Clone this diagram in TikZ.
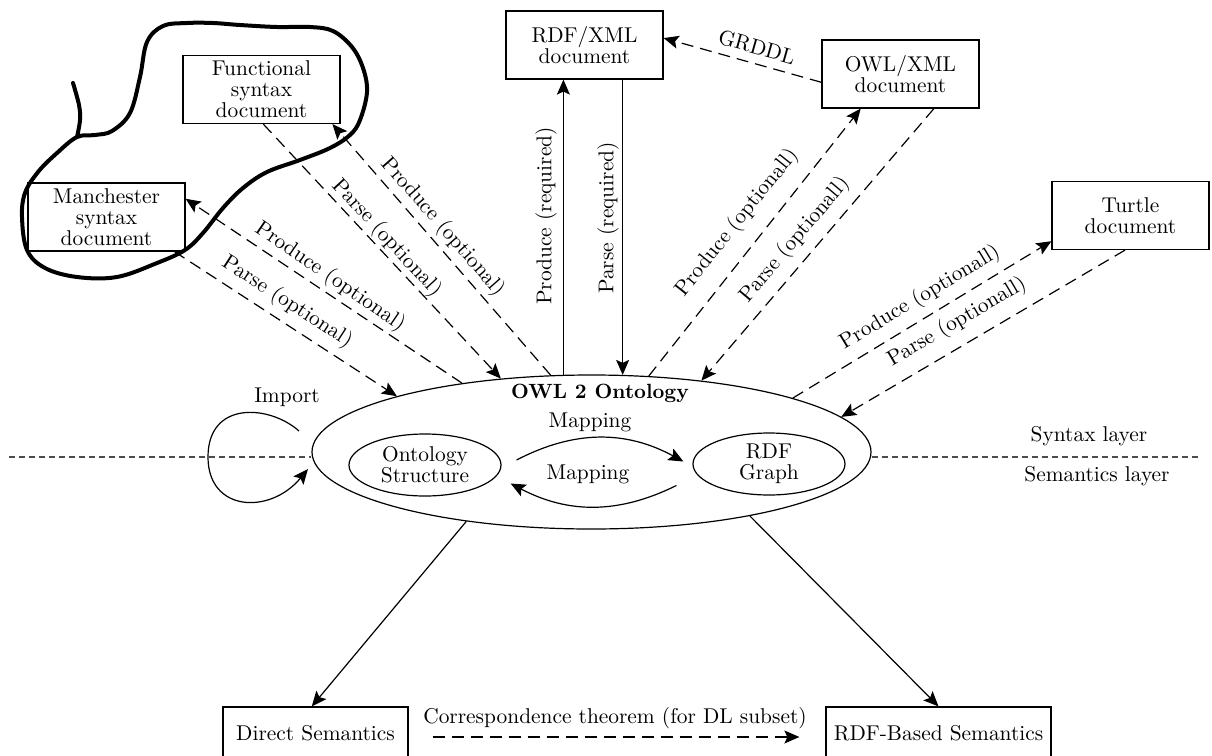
\documentclass[tikz,border=0pt]{standalone}
\usepackage{fontspec}
\setmainfont{Latin Modern Roman}
\usetikzlibrary{shapes.geometric,arrows.meta}
\begin{document}
\begin{tikzpicture}[x=0.5pt,y=-0.5pt,
  font=\fontsize{10.7}{10.5}\selectfont,
  box/.style={draw, line width=0.6pt, rectangle, inner sep=0pt, align=center,
    minimum width=78.5pt, minimum height=34pt},
  arr/.style={-{Stealth[length=7.5pt,width=6.5pt,inset=1.5pt]}, line width=0.6pt},
  dsh/.style={dash pattern=on 6pt off 3.5pt},
  lbl/.style={inner sep=0pt},
  layer/.style={draw=black!70, line width=0.75pt, dash pattern=on 3pt off 2pt},
  blob/.style={line width=2pt, line join=round, line cap=round},
  inner/.style={draw, ellipse, line width=0.6pt, inner sep=0pt, align=center,
    minimum width=76pt, minimum height=31pt}]
\useasboundingbox (0,0) rectangle (1212,756);
\clip (0,0) rectangle (1212,756);

% freehand outline
\draw[blob] plot[smooth, tension=0.6] coordinates {(73,83) (79,105) (80,120) (77,137)};
\draw[blob] plot[smooth cycle, tension=0.6] coordinates {(77,137) (95,135) (112,131) (130,113) (140,77) (147,42) (163,26) (187,23) (213,23) (240,25) (277,27) (310,27) (333,31) (352,47) (363,68) (367,92) (360,120) (350,135) (330,148) (300,160) (267,172) (243,188) (223,208) (203,233) (185,250) (157,263) (117,277) (77,277) (45,268) (27,250) (22,217) (25,193) (38,172) (57,153)};

% boxes
\node[box] (manch) at (106.5,217) {Manchester\\syntax\\document};
\node[box] (func) at (261.5,89.5) {Functional\\syntax\\document};
\node[box] (rdfxml) at (584.5,45) {RDF/XML\\document};
\node[box] (owlxml) at (900.5,74) {OWL/XML\\document};
\node[box] (turtle) at (1130.5,215.5) {Turtle\\document};
\node[box, minimum width=92.5pt, minimum height=26pt] (direct) at (315.5,733) {Direct Semantics};
\node[box, minimum width=112.5pt, minimum height=26pt] (rdfsem) at (938.5,733) {RDF-Based Semantics};

% ontology
\node[draw, ellipse, minimum width=279.5pt, minimum height=77pt, inner sep=0pt, line width=0.6pt] (owl) at (591.5,452) {};
\node[font=\fontsize{10.3}{10}\selectfont\bfseries] (owlt) at (600,393) {OWL 2 Ontology};
\node (map1) at (590,422) {Mapping};
\node (map2) at (588,474) {Mapping};
\node[inner] (ostr) at (425,465) {Ontology\\Structure};
\node[inner] (rdfg) at (769,464) {RDF\\Graph};
\draw[arr] ([xshift=7.5pt,yshift=2.5pt]ostr.east) to[bend left=28] ([xshift=-4.5pt,yshift=1.25pt]rdfg.west);
\draw[arr] ([xshift=-8pt,yshift=-10.75pt]rdfg.west) to[bend left=27] ([xshift=4.5pt,yshift=-9.25pt]ostr.east);

% layers
\coordinate (lleft) at (9,457);
\coordinate (lright) at (1200,457);
\draw[layer] (lleft) -- (lleft -| owl.west);
\draw[layer] (lright -| owl.east) -- (lright);
\node (syn) at (1089,436) {Syntax layer};
\node (sem) at (1097,476) {Semantics layer};

% import loop
\coordinate (imps) at (299,431);
\coordinate (impe) at (308,469);
\draw[arr] (imps) .. controls (270,405) and (208,400) .. (208,457) .. controls (208,512) and (270,515) .. (impe);
\node (imp) at (287,397) {Import};

% Manchester
\draw[arr,dsh] (owl.152.8) -- (manch.13.6);
\draw[arr,dsh] (manch.-27) -- (owl.164.1);
\node[lbl, rotate=-34.4] (lp1) at (330,277) {Produce (optional)};
\node[lbl, rotate=-33] (lp2) at (287,302) {Parse (optional)};

% Functional
\draw[arr,dsh] (func.-87) -- (owl.141.6);
\draw[arr,dsh] (owl.118.8) -- (func.-26.7);
\node[lbl, rotate=-47.4] (lp3) at (387,238) {Parse (optional)};
\node[lbl, rotate=-48.7] (lp4) at (443,227) {Produce (optional)};

% RDF/XML
\draw[arr] (owl.110.3) -- (owl.110.3 |- rdfxml.south);
\draw[arr] (rdfxml.south -| owl.68.4) -- (owl.68.4);
\node[lbl, rotate=90] (lp5) at (546,216) {Produce (required)};
\node[lbl, rotate=90] (lp6) at (608,218) {Parse (required)};

% GRDDL
\draw[arr,dsh] (owlxml.186.5) -- (rdfxml.5.1);
\node[lbl, rotate=-15.8] (lg) at (757,47) {GRDDL};

% OWL/XML
\draw[arr,dsh] (owl.53.7) -- (owlxml.221.4);
\draw[arr,dsh] (owlxml.-46.3) -- (owl.33.1);
\node[lbl, rotate=51.3] (lp7) at (737,223) {Produce (optionall)};
\node[lbl, rotate=49.8] (lp8) at (795,240) {Parse (optionall)};

% Turtle
\draw[arr,dsh] (owl.15.1) -- (turtle.198.65);
\draw[arr,dsh] (turtle.261) -- (owl.8.4);
\node[lbl, rotate=31.1] (lp9) at (920,298) {Produce (optionall)};
\node[lbl, rotate=30.3] (lp10) at (957,322) {Parse (optionall)};

% semantics
\draw[arr] (owl.209.4) -- (direct.98);
\draw[arr] (owl.338.3) -- (rdfsem.north);
\draw[arr,dsh] ([xshift=12pt,yshift=-2pt]direct.east) -- ([xshift=-13pt,yshift=-2pt]rdfsem.west);
\node (corr) at (615,718) {Correspondence theorem (for DL subset)};
\end{tikzpicture}
\end{document}
